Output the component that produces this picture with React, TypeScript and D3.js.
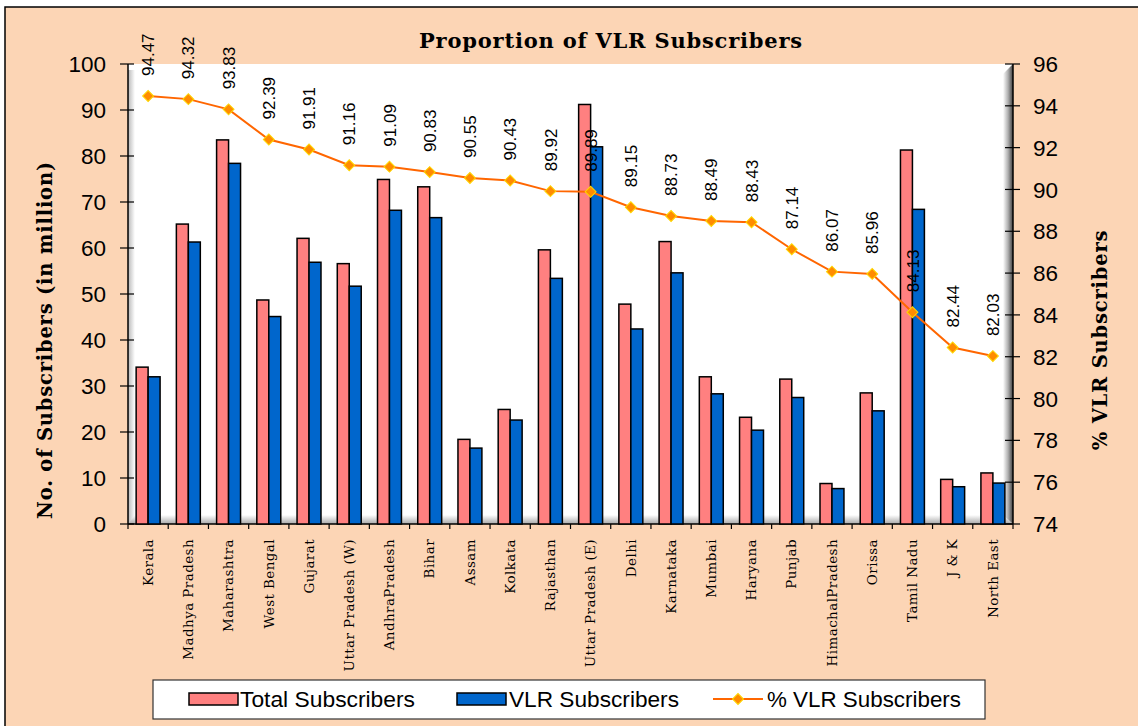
import React, { useRef, useEffect } from 'react';
import * as d3 from 'd3';

// data
const categories = [
  'Kerala', 'Madhya Pradesh', 'Maharashtra', 'West Bengal', 'Gujarat',
  'Uttar Pradesh (W)', 'AndhraPradesh', 'Bihar', 'Assam', 'Kolkata',
  'Rajasthan', 'Uttar Pradesh (E)', 'Delhi', 'Karnataka', 'Mumbai',
  'Haryana', 'Punjab', 'HimachalPradesh', 'Orissa', 'Tamil Nadu',
  'J & K', 'North East',
];
const totalSubs = [
  34.1, 65.2, 83.5, 48.7, 62.1, 56.6, 74.9, 73.3, 18.4, 24.9, 59.6,
  91.2, 47.8, 61.4, 32.0, 23.2, 31.5, 8.8, 28.5, 81.3, 9.7, 11.1,
];
const vlrSubs = [
  32.0, 61.3, 78.4, 45.1, 56.9, 51.7, 68.2, 66.6, 16.5, 22.6, 53.4,
  82.0, 42.4, 54.6, 28.3, 20.4, 27.5, 7.7, 24.6, 68.4, 8.1, 8.9,
];
const pctVlr = [
  94.47, 94.32, 93.83, 92.39, 91.91, 91.16, 91.09, 90.83, 90.55, 90.43, 89.92,
  89.89, 89.15, 88.73, 88.49, 88.43, 87.14, 86.07, 85.96, 84.13, 82.44, 82.03,
];
const leftTicks = [0, 10, 20, 30, 40, 50, 60, 70, 80, 90, 100];
const rightTicks = [74, 76, 78, 80, 82, 84, 86, 88, 90, 92, 94, 96];
const seriesNames = ['Total Subscribers', 'VLR Subscribers', '% VLR Subscribers'];

const App = () => {
  const ref = useRef<SVGSVGElement>(null);

  useEffect(() => {
    const width = 1138;
    const height = 726;
    const plot = { left: 128, right: 1013, top: 64, bottom: 524 };
    const pink = '#FF8080';
    const blue = '#0066CC';
    const orange = '#FF6600';
    const sans = '"Liberation Sans", Arial, sans-serif';
    const serif = '"DejaVu Serif", serif';

    const svg = d3.select(ref.current);
    svg.selectAll('*').remove();

    // scales
    const x = d3.scaleBand().domain(categories).range([plot.left, plot.right]);
    const xSub = d3.scaleBand().domain(['total', 'vlr'])
      .range([0, x.bandwidth()]).paddingOuter(0.68);
    const yL = d3.scaleLinear().domain([0, 100]).range([plot.bottom, plot.top]);
    const yR = d3.scaleLinear().domain([74, 96]).range([plot.bottom, plot.top]);

    // defs for plot-wall shading
    const defs = svg.append('defs');
    const grad = (id, x1, y1, x2, y2, stops) => {
      const g = defs.append('linearGradient').attr('id', id)
        .attr('x1', x1).attr('y1', y1).attr('x2', x2).attr('y2', y2);
      stops.forEach(([o, c]) => g.append('stop').attr('offset', o).attr('stop-color', c));
    };
    grad('gLeft', 0, 0, 1, 0, [[0, '#b8b8b8'], [1, '#ffffff']]);
    grad('gBottom', 0, 0, 0, 1, [[0, '#ffffff'], [1, '#a8a8a8']]);
    grad('gRight', 0, 0, 1, 0, [[0, '#ffffff'], [0.5, '#b0b0b0'], [1, '#404040']]);

    // chart background + frame (frame runs off the right/bottom edge)
    svg.append('rect').attr('width', width).attr('height', height).attr('fill', '#fff');
    svg.append('rect').attr('x', 5).attr('y', 7)
      .attr('width', width + 20).attr('height', height + 20)
      .attr('fill', '#FCD5B5').attr('stroke', '#000').attr('stroke-width', 1.5);

    // plot area
    svg.append('rect')
      .attr('x', plot.left).attr('y', plot.top)
      .attr('width', plot.right - plot.left).attr('height', plot.bottom - plot.top)
      .attr('fill', '#fff');
    svg.append('rect')
      .attr('x', plot.left).attr('y', plot.top + 6)
      .attr('width', 7).attr('height', plot.bottom - plot.top - 6)
      .attr('fill', 'url(#gLeft)');
    svg.append('path')
      .attr('d', `M${plot.left + 7},${plot.bottom - 9} L${plot.right - 10},${plot.bottom - 9} L${plot.right},${plot.bottom} L${plot.left},${plot.bottom} Z`)
      .attr('fill', 'url(#gBottom)');
    svg.append('path')
      .attr('d', `M${plot.right - 10},${plot.top + 10} L${plot.right},${plot.top} L${plot.right},${plot.bottom} L${plot.right - 10},${plot.bottom - 9} Z`)
      .attr('fill', 'url(#gRight)');

    // title
    svg.append('text')
      .attr('x', 611).attr('y', 48)
      .attr('text-anchor', 'middle')
      .attr('font-family', serif).attr('font-weight', 'bold').attr('font-size', 21)
      .attr('letter-spacing', 0.8)
      .text('Proportion of VLR Subscribers');

    // left axis
    const axL = svg.append('g');
    axL.append('line')
      .attr('x1', plot.left).attr('x2', plot.left)
      .attr('y1', plot.top).attr('y2', plot.bottom)
      .attr('stroke', '#000').attr('stroke-width', 1.5);
    axL.selectAll('line.tick').data(leftTicks).join('line')
      .attr('class', 'tick')
      .attr('x1', plot.left - 8).attr('x2', plot.left + 6)
      .attr('y1', d => yL(d)).attr('y2', d => yL(d))
      .attr('stroke', '#000').attr('stroke-width', 1.2);
    axL.selectAll('text').data(leftTicks).join('text')
      .attr('x', 106).attr('y', d => yL(d))
      .attr('dy', '0.36em').attr('text-anchor', 'end')
      .attr('font-family', sans).attr('font-size', 22.5)
      .text(d => d);

    // right axis
    const axR = svg.append('g');
    axR.append('line')
      .attr('x1', plot.right).attr('x2', plot.right)
      .attr('y1', plot.top).attr('y2', plot.bottom)
      .attr('stroke', '#000').attr('stroke-width', 1.5);
    axR.selectAll('line.tick').data(rightTicks).join('line')
      .attr('class', 'tick')
      .attr('x1', plot.right - 8).attr('x2', plot.right + 7)
      .attr('y1', d => yR(d)).attr('y2', d => yR(d))
      .attr('stroke', '#000').attr('stroke-width', 1.2);
    axR.selectAll('text').data(rightTicks).join('text')
      .attr('x', 1033).attr('y', d => yR(d))
      .attr('dy', '0.36em').attr('text-anchor', 'start')
      .attr('font-family', sans).attr('font-size', 22.5)
      .text(d => d);

    // axis titles
    svg.append('text')
      .attr('transform', `translate(52,340) rotate(-90)`)
      .attr('text-anchor', 'middle')
      .attr('font-family', serif).attr('font-weight', 'bold').attr('font-size', 19.5)
      .attr('letter-spacing', 0.8)
      .text('No. of Subscribers (in million)');
    svg.append('text')
      .attr('transform', `translate(1107,340) rotate(-90)`)
      .attr('text-anchor', 'middle')
      .attr('font-family', serif).attr('font-weight', 'bold').attr('font-size', 19.5)
      .attr('letter-spacing', 0.8)
      .text('% VLR Subscribers');

    // x axis
    svg.append('line')
      .attr('x1', plot.left).attr('x2', plot.right)
      .attr('y1', plot.bottom).attr('y2', plot.bottom)
      .attr('stroke', '#000').attr('stroke-width', 1.5);
    const bounds = categories.map(c => x(c)).concat([plot.right]);
    svg.append('g').selectAll('line').data(bounds).join('line')
      .attr('x1', d => d).attr('x2', d => d)
      .attr('y1', plot.bottom).attr('y2', plot.bottom + 5)
      .attr('stroke', '#000').attr('stroke-width', 1.2);
    svg.append('g').selectAll('text').data(categories).join('text')
      .attr('transform', d => `translate(${x(d) + x.bandwidth() / 2},539) rotate(-90)`)
      .attr('dy', '0.35em').attr('text-anchor', 'end')
      .attr('font-family', serif).attr('font-size', 13.5)
      .attr('letter-spacing', 0.4)
      .text(d => d);

    // bars
    const barData = categories.flatMap((c, i) => [
      { cat: c, key: 'total', v: totalSubs[i] },
      { cat: c, key: 'vlr', v: vlrSubs[i] },
    ]);
    svg.append('g').selectAll('rect').data(barData).join('rect')
      .attr('x', d => x(d.cat) + xSub(d.key))
      .attr('y', d => yL(d.v))
      .attr('width', xSub.bandwidth())
      .attr('height', d => yL(0) - yL(d.v))
      .attr('fill', d => (d.key === 'total' ? pink : blue))
      .attr('stroke', '#000').attr('stroke-width', 1.5);

    // % VLR line
    const cx = c => x(c) + x.bandwidth() / 2;
    const pts = categories.map((c, i) => ({ c, v: pctVlr[i] }));
    svg.append('path')
      .datum(pts)
      .attr('d', d3.line().x(d => cx(d.c)).y(d => yR(d.v)))
      .attr('fill', 'none').attr('stroke', orange).attr('stroke-width', 2);
    const marker = d3.symbol().type(d3.symbolSquare).size(60);
    svg.append('g').selectAll('path').data(pts).join('path')
      .attr('transform', d => `translate(${cx(d.c)},${yR(d.v)}) rotate(45)`)
      .attr('d', marker)
      .attr('fill', '#FF8C00').attr('stroke', '#FFD700').attr('stroke-width', 1);

    // data labels
    svg.append('g').selectAll('text').data(pts).join('text')
      .attr('transform', d => `translate(${cx(d.c)},${yR(d.v) - 20}) rotate(-90)`)
      .attr('dy', '0.36em').attr('text-anchor', 'start')
      .attr('font-family', sans).attr('font-size', 17)
      .text(d => d.v.toFixed(2));

    // legend
    const lg = svg.append('g');
    lg.append('rect')
      .attr('x', 153).attr('y', 680).attr('width', 832).attr('height', 39)
      .attr('fill', '#fff').attr('stroke', '#333').attr('stroke-width', 1.2);
    const ly = 699;
    lg.append('rect').attr('x', 189).attr('y', ly - 6).attr('width', 49).attr('height', 12)
      .attr('fill', pink).attr('stroke', '#000').attr('stroke-width', 1.5);
    lg.append('rect').attr('x', 457).attr('y', ly - 6).attr('width', 49).attr('height', 12)
      .attr('fill', blue).attr('stroke', '#000').attr('stroke-width', 1.5);
    lg.append('line').attr('x1', 713).attr('x2', 763).attr('y1', ly).attr('y2', ly)
      .attr('stroke', orange).attr('stroke-width', 2);
    lg.append('path').attr('transform', `translate(738,${ly}) rotate(45)`).attr('d', marker)
      .attr('fill', '#FF8C00').attr('stroke', '#FFD700').attr('stroke-width', 1);
    lg.selectAll('text').data(seriesNames).join('text')
      .attr('x', (d, i) => [240, 509, 767][i]).attr('y', ly)
      .attr('dy', '0.36em')
      .attr('font-family', sans).attr('font-size', 22.5)
      .attr('textLength', (d, i) => [175, 170, 194][i])
      .attr('lengthAdjust', 'spacingAndGlyphs')
      .text(d => d);
  }, []);

  return (
    <svg
      ref={ref}
      width={1138}
      height={726}
      style={{ position: 'absolute', left: 0, top: 0, display: 'block' }}
    />
  );
};

export default App;
